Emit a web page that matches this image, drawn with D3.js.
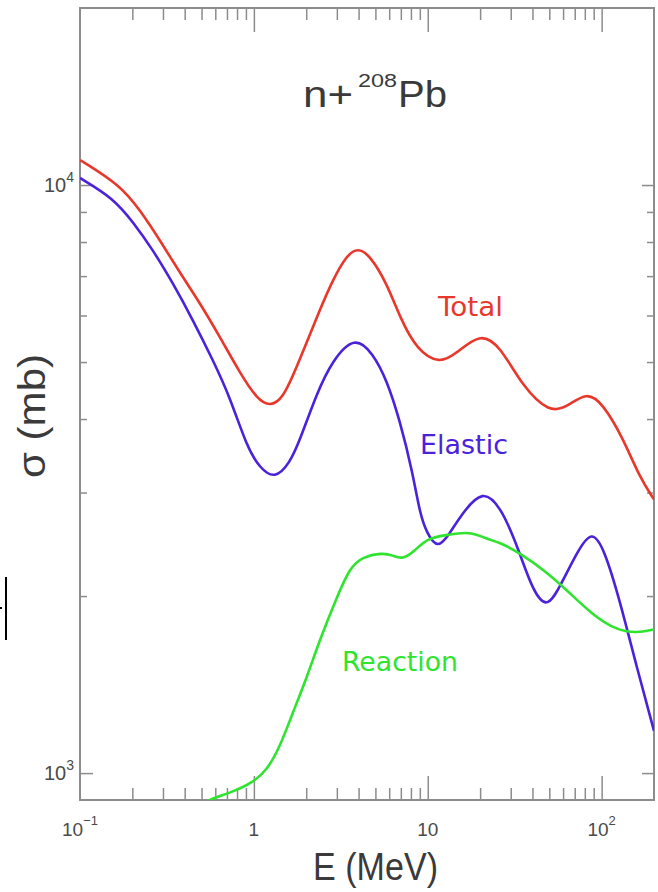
<!DOCTYPE html>
<html>
<head>
<meta charset="utf-8">
<script src="https://cdn.jsdelivr.net/npm/d3@7"></script>
<style>
  html, body { margin: 0; padding: 0; background: #fff; }
  svg { display: block; }
</style>
</head>
<body>
<div id="chart"></div>
<script>
let width = 658;
let height = 892;
let margin = ({top: 8, right: 4, bottom: 92, left: 80});

// Total cross section (red)
let totalE = [0.1, 0.17, 0.221, 0.288, 0.376, 0.49, 0.638, 0.832, 1.04, 1.236,
              1.468, 1.766, 2.39, 2.84, 3.42, 3.96, 4.64, 5.81, 6.9, 8.65,
              11.7, 14.7, 19.9, 25.9, 35.2, 50.2, 63, 82, 101, 132, 165, 200];
let totalMb = [11030, 10000, 9070, 8060, 7085, 6300, 5515, 4790, 4330, 4200,
               4330, 4903, 6130, 6893, 7600, 7820, 7600, 6812, 5964, 5241,
               4960, 5180, 5600, 5345, 4533, 4100, 4192, 4450, 4258, 3727, 3187, 2920];

// Elastic (blue)
let elasticE = [0.1, 0.155, 0.202, 0.263, 0.342, 0.446, 0.581, 0.728, 0.912, 1.083,
                1.32, 1.61, 1.84, 2.3, 2.84, 3.8, 4.83, 5.81, 6.9, 8.2,
                9.0, 9.86, 11.4, 13.4, 15.3, 20.7, 27, 33.8, 40.1, 48.3,
                57.4, 71.8, 87.7, 104, 127, 159, 200];
let elasticMb = [10280, 9504, 8650, 7752, 6812, 5894, 5040, 4360, 3584, 3300,
                 3160, 3367, 3684, 4428, 5040, 5540, 5180, 4660, 3985, 3237,
                 2768, 2560, 2400, 2559, 2725, 3060, 2801, 2367, 2047, 1900,
                 2071, 2367, 2600, 2394, 1969, 1515, 1180];

// Reaction (green)
let reactionE = [0.45, 0.558, 0.728, 0.974, 1.19, 1.41, 1.67, 2.02, 2.39, 3.0,
                 3.56, 4.18, 5.51, 6.29, 7.09, 8.2, 9.86, 12.9, 17.4, 22.7,
                 25.9, 33.8, 48.3, 63, 88.8, 122, 159, 200];
let reactionMb = [870, 903, 925, 961, 1012, 1107, 1265, 1456, 1684, 1992,
                  2232, 2330, 2370, 2345, 2310, 2367, 2510, 2539, 2580, 2490,
                  2468, 2367, 2197, 2047, 1857, 1750, 1730, 1755];

// ticks
let xMajor = [1, 10, 100];
let xMinor = [0.2, 0.3, 0.4, 0.5, 0.6, 0.7, 0.8, 0.9, 2, 3, 4, 5, 6, 7, 8, 9,
              20, 30, 40, 50, 60, 70, 80, 90];
let yMajor = [1000, 10000];
let yMinor = [2000, 3000, 4000, 5000, 6000, 7000, 8000, 9000];
let xLabels = [{v: 0.1, base: "10", sup: "\u22121"}, {v: 1, base: "1", sup: ""},
               {v: 10, base: "10", sup: ""}, {v: 100, base: "10", sup: "2"}];
let yLabels = [{v: 1000, base: "10", sup: "3"}, {v: 10000, base: "10", sup: "4"}];

let frameColor = "#8c8c8c";

let svg = d3.select("#chart")
    .append("svg")
    .attr("width", width)
    .attr("height", height);

let x = d3.scaleLog()
    .domain([0.1, 200])
    .range([margin.left, width - margin.right]);

let y = d3.scaleLog()
    .domain([900, 20000])
    .range([height - margin.bottom, margin.top]);

svg.append("clipPath")
    .attr("id", "plotclip")
    .append("rect")
    .attr("x", margin.left)
    .attr("y", margin.top)
    .attr("width", width - margin.right - margin.left)
    .attr("height", height - margin.bottom - margin.top);

// axes with inward ticks on all four sides
function tickAxis(axis, values, size, transform) {
    let g = svg.append("g")
        .attr("transform", transform)
        .call(axis.tickValues(values).tickSize(-size).tickFormat(""));
    g.select(".domain").remove();
    g.selectAll(".tick line").attr("stroke", frameColor).attr("stroke-width", 1.5);
    return g;
}

let bottomY = height - margin.bottom;
let rightX = width - margin.right;
tickAxis(d3.axisBottom(x), xMinor, 12, `translate(0,${bottomY})`);
tickAxis(d3.axisBottom(x), xMajor, 24, `translate(0,${bottomY})`);
tickAxis(d3.axisTop(x), xMinor, 12, `translate(0,${margin.top})`);
tickAxis(d3.axisTop(x), xMajor, 24, `translate(0,${margin.top})`);
tickAxis(d3.axisLeft(y), yMinor, 7, `translate(${margin.left},0)`);
tickAxis(d3.axisLeft(y), yMajor, 13, `translate(${margin.left},0)`);
tickAxis(d3.axisRight(y), yMinor, 7, `translate(${rightX},0)`);
tickAxis(d3.axisRight(y), yMajor, 12, `translate(${rightX},0)`);

// frame
svg.append("rect")
    .attr("x", margin.left)
    .attr("y", margin.top)
    .attr("width", rightX - margin.left)
    .attr("height", bottomY - margin.top)
    .attr("fill", "none")
    .attr("stroke", frameColor)
    .attr("stroke-width", 2);

// tick labels
let labelFont = "'Liberation Sans', Arial, sans-serif";
xLabels.forEach(function(d) {
    let t = svg.append("text")
        .attr("x", x(d.v))
        .attr("y", 836)
        .attr("text-anchor", "middle")
        .attr("font-family", labelFont)
        .attr("font-size", 19)
        .attr("fill", "#4a4a4a");
    t.append("tspan").text(d.base);
    if (d.sup) {
        t.append("tspan").attr("dy", -11).attr("font-size", 13).text(d.sup);
    }
});

yLabels.forEach(function(d) {
    let t = svg.append("text")
        .attr("x", 74)
        .attr("y", y(d.v) + 7)
        .attr("text-anchor", "end")
        .attr("font-family", labelFont)
        .attr("font-size", 20)
        .attr("fill", "#4a4a4a");
    t.append("tspan").text(d.base);
    t.append("tspan").attr("dy", -10).attr("font-size", 14).text(d.sup);
});

// curves
let line = d3.line()
    .x(function(d) { return x(d[0]); })
    .y(function(d) { return y(d[1]); })
    .curve(d3.curveBasis);

let series = [
    {name: "Total", e: totalE, mb: totalMb, color: "#e8382c"},
    {name: "Elastic", e: elasticE, mb: elasticMb, color: "#4b22dc"},
    {name: "Reaction", e: reactionE, mb: reactionMb, color: "#2ee42e"}
];

let plot = svg.append("g").attr("clip-path", "url(#plotclip)");

series.forEach(function(s) {
    plot.append("path")
        .datum(d3.zip(s.e, s.mb))
        .attr("fill", "none")
        .attr("stroke", s.color)
        .attr("stroke-width", 2.6)
        .attr("stroke-linejoin", "round")
        .attr("d", line);
});

// curve labels
let curveLabels = [
    {text: "Total", x: 438, y: 316, w: 65, color: "#e8382c"},
    {text: "Elastic", x: 420, y: 454, w: 88, color: "#4b22dc"},
    {text: "Reaction", x: 342, y: 671, w: 116, color: "#2ee42e"}
];
curveLabels.forEach(function(d) {
    svg.append("text")
        .attr("x", d.x)
        .attr("y", d.y)
        .attr("font-family", "'DejaVu Sans', sans-serif")
        .attr("font-size", 26)
        .attr("textLength", d.w)
        .attr("lengthAdjust", "spacingAndGlyphs")
        .attr("fill", d.color)
        .text(d.text);
});

// title n+208Pb, pieces placed one by one
let titleParts = [
    {text: "n+", x: 303, y: 107, size: 36, w: 50},
    {text: "208", x: 358, y: 87, size: 19, w: 39},
    {text: "Pb", x: 398, y: 107, size: 36, w: 49}
];
titleParts.forEach(function(d) {
    svg.append("text")
        .attr("x", d.x)
        .attr("y", d.y)
        .attr("font-family", labelFont)
        .attr("font-size", d.size)
        .attr("textLength", d.w)
        .attr("lengthAdjust", "spacingAndGlyphs")
        .attr("fill", "#3a3a3a")
        .text(d.text);
});

// axis titles
svg.append("text")
    .attr("x", 313)
    .attr("y", 880)
    .attr("font-family", labelFont)
    .attr("font-size", 38)
    .attr("textLength", 125)
    .attr("lengthAdjust", "spacingAndGlyphs")
    .attr("fill", "#3a3a3a")
    .text("E (MeV)");

svg.append("text")
    .attr("transform", "translate(45,478) rotate(-90)")
    .attr("font-family", labelFont)
    .attr("font-size", 38)
    .attr("textLength", 124)
    .attr("lengthAdjust", "spacingAndGlyphs")
    .attr("fill", "#3a3a3a")
    .text("\u03c3 (mb)");

// stray mark at the left edge
svg.append("line")
    .attr("x1", 6).attr("x2", 6)
    .attr("y1", 577).attr("y2", 640)
    .attr("stroke", "#000")
    .attr("stroke-width", 2);
svg.append("line")
    .attr("x1", 0).attr("x2", 2)
    .attr("y1", 608).attr("y2", 608)
    .attr("stroke", "#000")
    .attr("stroke-width", 2);
</script>
</body>
</html>
